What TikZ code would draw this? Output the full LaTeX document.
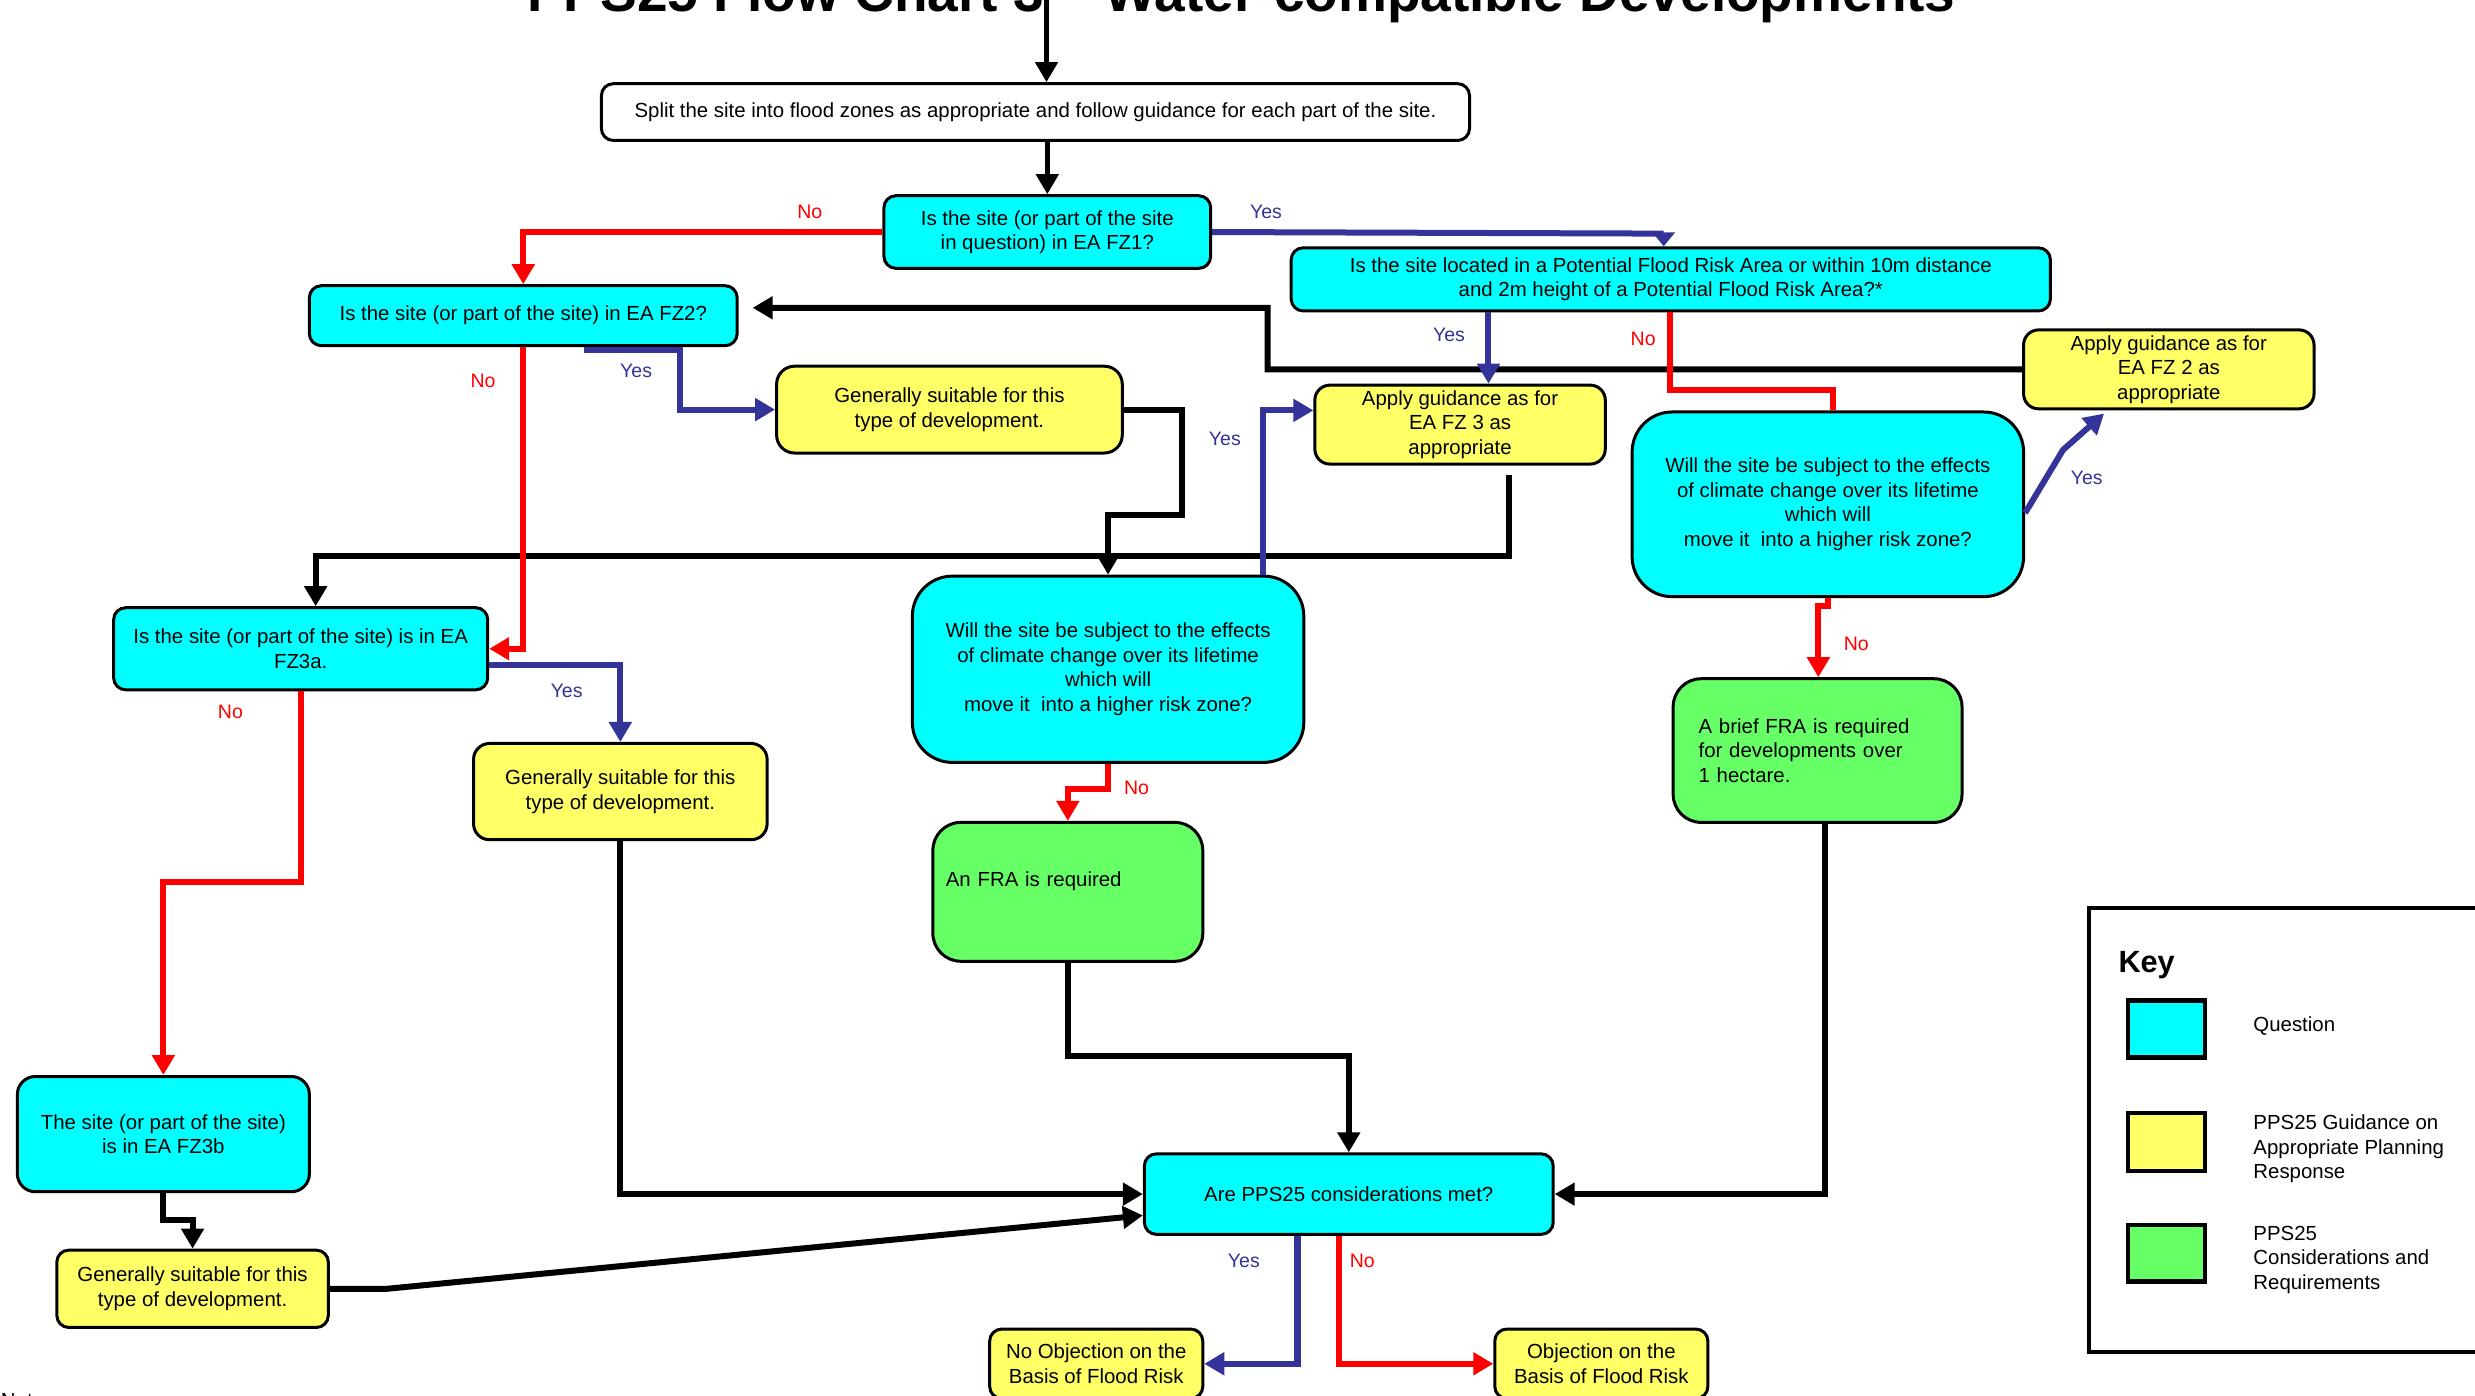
\documentclass[tikz,border=0pt]{standalone}
\usepackage{fontspec}
\setmainfont{Liberation Sans}
\usetikzlibrary{arrows.meta}
\definecolor{qcyan}{HTML}{00FFFF}
\definecolor{gyel}{HTML}{FFFF66}
\definecolor{rgrn}{HTML}{66FF66}
\definecolor{yblue}{HTML}{333399}
\definecolor{nred}{HTML}{FF0000}
\newcommand{\bodyfont}{\fontsize{20.4pt}{24.5pt}\selectfont}
\newcommand{\lblfont}{\fontsize{19.5pt}{22pt}\selectfont}
\begin{document}
\begin{tikzpicture}[x=1.5784pt,y=-1.5784pt,
  sz/.style n args={2}{minimum width=#1*1.5784pt, minimum height=#2*1.5784pt},
  box/.style={draw=black, line width=3pt, rounded corners=12pt, align=center, inner sep=0pt, font=\bodyfont},
  qbox/.style={box, fill=qcyan},
  ybox/.style={box, fill=gyel},
  gbox/.style={box, fill=rgrn},
  keysq/.style={draw=black, line width=4.5pt, inner sep=0pt},
  conn/.style={line width=6pt, line join=miter, -{Triangle[length=20pt,width=22pt]}},
  blkc/.style={conn, draw=black},
  redc/.style={conn, draw=nred},
  bluec/.style={conn, draw=yblue},
  lbl/.style={font=\lblfont, inner sep=0pt},
  nolbl/.style={lbl, text=nred},
  yeslbl/.style={lbl, text=yblue}]
\useasboundingbox (0,0) rectangle (1568,884);
\clip (0,0) rectangle (1568,884);
\fill[white] (0,0) rectangle (1568,884);

% title and notes (partly outside the frame, as in the reference)
\node[font=\bfseries\fontsize{55pt}{60pt}\selectfont, anchor=base, inner sep=0pt] (title) at (786.5,7.6) {PPS25 Flow Chart 3 – Water-compatible Developments};
\node[font=\bodyfont, anchor=base west, inner sep=0pt] (notes) at (0.5,892) {Notes:};

% nodes
\node[box, fill=white, sz={550}{36}] (split) at (656,71) {Split the site into flood zones as appropriate and follow guidance for each part of the site.};
\node[qbox, sz={207}{46}] (fz1) at (663.5,147) {Is the site (or part of the site\\in question) in EA FZ1?};
\node[qbox, sz={481}{40}] (pfra) at (1058.5,177) {Is the site located in a Potential Flood Risk Area or within 10m distance\\and 2m height of a Potential Flood Risk Area?*};
\node[qbox, sz={271}{38}] (fz2) at (331.5,200) {Is the site (or part of the site) in EA FZ2?};
\node[ybox, rounded corners=18pt, sz={219}{55}] (gen1) at (601.5,259.5) {Generally suitable for this\\type of development.};
\node[ybox, rounded corners=15pt, sz={184}{50}] (afz3) at (925,269) {Apply guidance as for\\EA FZ 3 as\\appropriate};
\node[ybox, rounded corners=15pt, sz={184}{50}] (afz2) at (1374,234) {Apply guidance as for\\EA FZ 2 as\\appropriate};
\node[qbox, rounded corners=40pt, sz={248}{117}] (ccr) at (1158,319.5) {Will the site be subject to the effects\\of climate change over its lifetime\\which will\\move it\ \ into a higher risk zone?};
\node[qbox, rounded corners=40pt, sz={248}{118}] (ccm) at (702,424) {Will the site be subject to the effects\\of climate change over its lifetime\\which will\\move it\ \ into a higher risk zone?};
\node[qbox, sz={237}{52}] (fz3a) at (190.5,411) {Is the site (or part of the site) is in EA\\FZ3a.};
\node[ybox, rounded corners=16pt, sz={186}{61}] (gen2) at (393,501.5) {Generally suitable for this\\type of development.};
\node[gbox, rounded corners=28pt, sz={171}{88}, align=left, text width=244pt, inner xsep=12.6pt] (fra) at (676.5,565) {An FRA is required\rule[-26pt]{0pt}{0pt}};
\node[gbox, rounded corners=28pt, sz={183}{91}, align=left, text width=238pt, inner xsep=25.2pt] (bfra) at (1151.5,475.5) {A brief FRA is required\\for developments over\\1 hectare.};
\node[qbox, rounded corners=18pt, sz={185}{73}] (fz3b) at (103.5,718.5) {The site (or part of the site)\\is in EA FZ3b};
\node[ybox, sz={172}{49}] (gen3) at (122,816.5) {Generally suitable for this\\type of development.};
\node[qbox, sz={259}{51}] (pps) at (854.5,756.5) {Are PPS25 considerations met?};
\node[ybox, sz={135}{44}] (noobj) at (694.5,864) {No Objection on the\\Basis of Flood Risk};
\node[ybox, sz={135}{44}] (obj) at (1014.5,864) {Objection on the\\Basis of Flood Risk};

% key
\node[draw=black, line width=4pt, sz={290}{281}, anchor=north west, inner sep=0pt] (key) at (1322,574) {};
\node[font=\bfseries\fontsize{30.7pt}{34pt}\selectfont, anchor=base west, inner sep=0pt] (keyt) at (1342,616) {Key};
\node[keysq, fill=qcyan, sz={49}{36}] (k1) at (1372.5,652) {};
\node[keysq, fill=gyel, sz={49}{37}] (k2) at (1372.5,723.5) {};
\node[keysq, fill=rgrn, sz={49}{36}] (k3) at (1372.5,794) {};
\node[anchor=west, align=left, font=\bodyfont, inner sep=0pt] (k1t) at (1427.5,650) {Question};
\node[anchor=west, align=left, font=\bodyfont, inner sep=0pt] (k2t) at (1427.5,728) {PPS25 Guidance on\\Appropriate Planning\\Response};
\node[anchor=west, align=left, font=\bodyfont, inner sep=0pt] (k3t) at (1427.5,798) {PPS25\\Considerations and\\Requirements};

% black connectors
\coordinate (tstart) at (663,0);
\draw[blkc, line width=4.5pt] (tstart) -- (tstart |- split.north);
\draw[blkc, line width=4.5pt] (fz1.north |- split.south) -- (fz1.north);
\draw[blkc, shorten >=14pt] (afz2.west) -- (803,234) -- (803,195) -- ([yshift=7.9pt]fz2.east);
\draw[blkc] (gen1.east) -- (749,0 |- gen1.east) -- (749,326) -- (702,326) -- (ccm.north);
\draw[blkc, shorten <=9pt] (956,0 |- afz3.south) -- (956,352) -- (200,352) -- (200,0 |- fz3a.north);
\draw[blkc] (gen2.south) -- (gen2.south |- pps.west) -- (pps.west);
\draw[blkc] (fra.south) -- (fra.south |- 0,669) -- (pps.north |- 0,669) -- (pps.north);
\draw[blkc] (1156,0 |- bfra.south) -- (1156,0 |- pps.east) -- (pps.east);
\draw[blkc] (fz3b.south) -- (fz3b.south |- 0,773) -- (gen3.north |- 0,773) -- (gen3.north);
\draw[blkc] (gen3.east) -- (245,0 |- gen3.east) -- (pps.west |- 0,770);

% red connectors
\draw[redc] (fz1.west) -| (fz2.north);
\draw[redc, -] (1058,0 |- pfra.south) -- (1058,247) -- (1161,247) -- (1161,0 |- ccr.north);
\draw[redc] (fz2.south) -- (fz2.south |- fz3a.east) -- (fz3a.east);
\draw[redc] (ccr.south) -- (1158,384) -- (1152,384) -- (1152,0 |- bfra.north);
\draw[redc] (ccm.south) -- (702,500) -- (fra.north |- 0,500) -- (fra.north);
\draw[redc] (fz3a.south) -- (fz3a.south |- 0,559) -- (fz3b.north |- 0,559) -- (fz3b.north);
\draw[redc] (848,0 |- pps.south) -- (848,0 |- obj.west) -- (obj.west);

% blue connectors
\draw[bluec, -{Triangle[length=14pt,width=22pt]}] (fz1.east) -- (1054,148) -- (1054,0 |- pfra.north);
\draw[bluec] (943,0 |- pfra.south) -- (943,0 |- afz3.north);
\coordinate (fz2yes) at (370,222);
\draw[bluec] (fz2yes) -- (431,222) -- (431,0 |- gen1.west) -- (gen1.west);
\draw[bluec] (800,0 |- ccm.north) -- (800,260) -- (afz3.west |- 0,260);
\coordinate (afz2in) at (1333,262);
\draw[bluec] (ccr.east |- 0,325) -- (1307,285) -- (afz2in);
\draw[bluec] (fz3a.east |- 0,421) -- (gen2.north |- 0,421) -- (gen2.north);
\draw[bluec] (822,0 |- pps.south) -- (822,0 |- noobj.east) -- (noobj.east);

% labels
\node[nolbl] (l1) at (513,134) {No};
\node[yeslbl] (l2) at (802,134) {Yes};
\node[yeslbl] (l3) at (918,212) {Yes};
\node[nolbl] (l4) at (1041,215) {No};
\node[nolbl] (l5) at (306,241) {No};
\node[yeslbl] (l6) at (403,235) {Yes};
\node[yeslbl] (l7) at (776,278) {Yes};
\node[yeslbl] (l8) at (1322,303) {Yes};
\node[nolbl] (l9) at (1176,408) {No};
\node[nolbl] (l10) at (720,499) {No};
\node[yeslbl] (l11) at (359,438) {Yes};
\node[nolbl] (l12) at (146,451) {No};
\node[yeslbl] (l13) at (788,799) {Yes};
\node[nolbl] (l14) at (863,799) {No};
\end{tikzpicture}
\end{document}
